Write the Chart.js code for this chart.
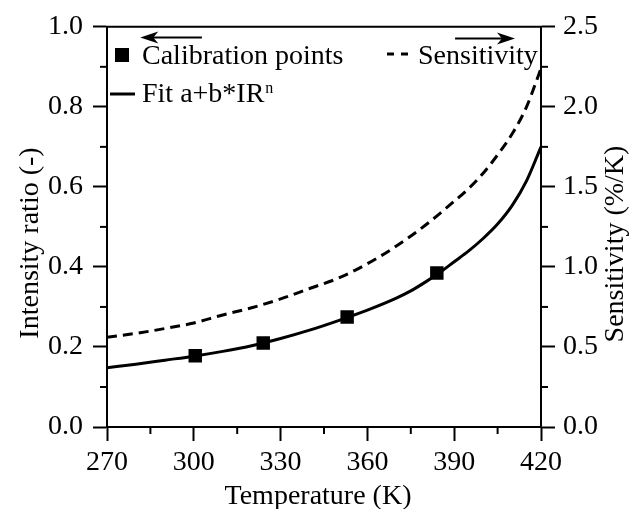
<!DOCTYPE html>
<html><head><meta charset="utf-8">
<script src="https://cdn.jsdelivr.net/npm/chart.js@4"></script>
<style>html,body{margin:0;padding:0;background:#fff}</style>
</head><body>
<canvas id="c" width="640" height="509"></canvas>
<script>
// ---- data ----
const calT  = [300.5, 324, 353, 384];
const calIR = [0.178, 0.210, 0.275, 0.385];

const fitT  = [270, 280, 290, 300, 310, 320, 330, 340, 350, 360, 370, 375, 380, 385, 390, 395, 400, 405, 410, 415, 420];
const fitIR = [0.148, 0.157, 0.167, 0.177, 0.189, 0.203, 0.221, 0.242, 0.266, 0.292, 0.322, 0.340, 0.362, 0.386, 0.413, 0.440, 0.471, 0.507, 0.553, 0.615, 0.700];

const sensT = [270, 280, 290, 300, 310, 320, 330, 340, 350, 360, 370, 380, 390, 395, 400, 405, 410, 415, 420];
const sensS = [0.56, 0.585, 0.615, 0.65, 0.70, 0.745, 0.80, 0.865, 0.93, 1.02, 1.13, 1.26, 1.41, 1.49, 1.585, 1.70, 1.83, 2.00, 2.24];

const xTicks  = [270, 300, 330, 360, 390, 420];
const yTicks  = [0.0, 0.2, 0.4, 0.6, 0.8, 1.0];
const y2Ticks = [0.0, 0.5, 1.0, 1.5, 2.0, 2.5];

const labels = {
  cal: 'Calibration points',
  fit: 'Fit a+b*IR',
  fitSup: 'n',
  sens: 'Sensitivity',
  xTitle: 'Temperature (K)',
  yTitle: 'Intensity ratio (-)',
  y2Title: 'Sensitivity (%/K)'
};

const FONT = "'Liberation Serif', 'Times New Roman', serif";
const FS = 28;

const toXY = (xs, ys) => xs.map((x, i) => ({x: x, y: ys[i]}));

const decor = {
  id: 'decor',
  afterDraw(chart) {
    const ctx = chart.ctx, ca = chart.chartArea;
    const sx = chart.scales.x, sy = chart.scales.y, sy2 = chart.scales.y2;
    ctx.save();
    ctx.strokeStyle = '#000'; ctx.fillStyle = '#000'; ctx.lineWidth = 2;
    // top frame line
    ctx.beginPath(); ctx.moveTo(ca.left - 1, ca.top); ctx.lineTo(ca.right + 1, ca.top); ctx.stroke();
    // minor ticks
    const mlen = 7;
    for (let i = 0; i < xTicks.length - 1; i++) {
      const px = sx.getPixelForValue((xTicks[i] + xTicks[i + 1]) / 2);
      ctx.beginPath(); ctx.moveTo(px, ca.bottom); ctx.lineTo(px, ca.bottom + mlen); ctx.stroke();
    }
    for (let i = 0; i < yTicks.length - 1; i++) {
      const py = sy.getPixelForValue((yTicks[i] + yTicks[i + 1]) / 2);
      ctx.beginPath(); ctx.moveTo(ca.left, py); ctx.lineTo(ca.left - mlen, py); ctx.stroke();
    }
    for (let i = 0; i < y2Ticks.length - 1; i++) {
      const py = sy2.getPixelForValue((y2Ticks[i] + y2Ticks[i + 1]) / 2);
      ctx.beginPath(); ctx.moveTo(ca.right, py); ctx.lineTo(ca.right + mlen, py); ctx.stroke();
    }
    // arrows
    const arrow = (x1, x2, y) => {
      const dir = Math.sign(x2 - x1);
      ctx.lineWidth = 2;
      ctx.beginPath(); ctx.moveTo(x1, y); ctx.lineTo(x2 - dir * 8, y); ctx.stroke();
      ctx.beginPath();
      ctx.moveTo(x2, y);
      ctx.lineTo(x2 - dir * 18, y - 6);
      ctx.lineTo(x2 - dir * 13, y);
      ctx.lineTo(x2 - dir * 18, y + 6);
      ctx.closePath(); ctx.fill();
    };
    arrow(sx.getPixelForValue(302.8), sx.getPixelForValue(281.5), sy.getPixelForValue(0.973));
    arrow(sx.getPixelForValue(390.3), sx.getPixelForValue(411), sy.getPixelForValue(0.971));

    // legend
    const ds = chart.data.datasets;
    ctx.font = FS + 'px ' + FONT;
    ctx.textBaseline = 'alphabetic'; ctx.textAlign = 'left';
    // calibration
    ctx.fillStyle = ds[0].backgroundColor;
    ctx.fillRect(115, 48, 14, 14);
    ctx.fillStyle = '#000';
    ctx.fillText(labels.cal, 142, 64);
    // fit
    ctx.strokeStyle = ds[1].borderColor; ctx.lineWidth = ds[1].borderWidth; ctx.setLineDash([]);
    ctx.beginPath(); ctx.moveTo(110, 94); ctx.lineTo(135, 94); ctx.stroke();
    ctx.fillText(labels.fit, 142, 102);
    const w = ctx.measureText(labels.fit).width;
    ctx.font = '16px ' + FONT;
    ctx.fillText(labels.fitSup, 142 + w + 1, 93);
    ctx.font = FS + 'px ' + FONT;
    // sensitivity
    ctx.strokeStyle = ds[2].borderColor; ctx.lineWidth = ds[2].borderWidth;
    ctx.setLineDash([7, 7]);
    ctx.beginPath(); ctx.moveTo(387, 54); ctx.lineTo(408, 54); ctx.stroke();
    ctx.setLineDash([]);
    ctx.fillText(labels.sens, 418, 64);

    // axis titles
    ctx.textAlign = 'center'; ctx.textBaseline = 'alphabetic';
    ctx.fillText(labels.xTitle, 318, 504);
    ctx.textBaseline = 'middle';
    ctx.save(); ctx.translate(31, 243); ctx.rotate(-Math.PI / 2); ctx.fillText(labels.yTitle, 0, 0); ctx.restore();
    ctx.save(); ctx.translate(616, 244); ctx.rotate(-Math.PI / 2); ctx.fillText(labels.y2Title, 0, 0); ctx.restore();
    ctx.restore();
  }
};

const tickFont = {family: FONT, size: FS};
const gridCommon = {drawOnChartArea: false, drawTicks: true, tickLength: 14, tickWidth: 2, tickColor: '#000'};
const borderCommon = {display: true, color: '#000', width: 2};

new Chart(document.getElementById('c'), {
  type: 'scatter',
  data: {
    datasets: [
      {
        label: labels.cal, data: toXY(calT, calIR), yAxisID: 'y',
        showLine: false, pointStyle: 'rect', pointRadius: 9.5, pointHoverRadius: 9.5,
        backgroundColor: '#000', borderColor: '#000', borderWidth: 0, order: 0
      },
      {
        label: labels.fit, data: toXY(fitT, fitIR), yAxisID: 'y',
        showLine: true, pointRadius: 0, borderColor: '#000', backgroundColor: '#000',
        borderWidth: 3, cubicInterpolationMode: 'monotone', order: 1
      },
      {
        label: labels.sens, data: toXY(sensT, sensS), yAxisID: 'y2',
        showLine: true, pointRadius: 0, borderColor: '#000', backgroundColor: '#000',
        borderWidth: 3, borderDash: [10, 6], cubicInterpolationMode: 'monotone', order: 2
      }
    ]
  },
  options: {
    responsive: false, animation: false, devicePixelRatio: 1,
    layout: {padding: {top: 22, left: 0, right: 0, bottom: 0}},
    plugins: {legend: {display: false}, tooltip: {enabled: false}},
    scales: {
      x: {
        type: 'linear', position: 'bottom', min: 270, max: 420,
        afterBuildTicks: s => { s.ticks = xTicks.map(v => ({value: v})); },
        ticks: {font: tickFont, color: '#000', padding: 5, maxRotation: 0, callback: v => String(v)},
        grid: gridCommon, border: borderCommon,
        afterFit: s => { s.height = 82; }
      },
      y: {
        type: 'linear', position: 'left', min: 0, max: 1,
        afterBuildTicks: s => { s.ticks = yTicks.map(v => ({value: v})); },
        ticks: {font: tickFont, color: '#000', padding: 10, callback: v => Number(v).toFixed(1)},
        grid: gridCommon, border: borderCommon,
        afterFit: s => { s.width = 107; }
      },
      y2: {
        type: 'linear', position: 'right', min: 0, max: 2.5,
        afterBuildTicks: s => { s.ticks = y2Ticks.map(v => ({value: v})); },
        ticks: {font: tickFont, color: '#000', padding: 8, callback: v => Number(v).toFixed(1)},
        grid: gridCommon, border: borderCommon,
        afterFit: s => { s.width = 99; }
      }
    }
  },
  plugins: [decor]
});
</script>
</body></html>
